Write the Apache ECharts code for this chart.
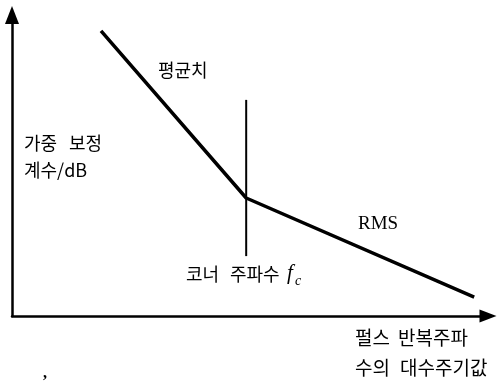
<!DOCTYPE html>
<html><head><meta charset="utf-8">
<script src="https://cdn.jsdelivr.net/npm/echarts@6/dist/echarts.min.js"></script>
<style>html,body{margin:0;padding:0;background:#fff}#c{width:498px;height:385px}</style>
</head><body><div id="c"></div>
<script>
// Weighting correction factor (dB) vs log of pulse repetition frequency (schematic)
const curveX = [18.7, 49.2, 97.1];
const curveY = [94.7, 39.2, 6.3];
const cornerX = 49.2;
const cornerLineY = [19.9, 71.8];
const yLabelWords1 = ['가중', '보정'];
const yLabel2 = '계수/dB';
const avgLabel = '평균치';
const rmsLabel = 'RMS';
const cornerWords = ['코너', '주파수'];
const fcMain = 'f', fcSub = 'c';
const xLabelWords1 = ['펄스', '반복주파'];
const xLabelWords2 = ['수의', '대수주기값'];

const KR = '"Noto Sans CJK KR", sans-serif';
const SERIF = '"Liberation Serif", "DejaVu Serif", serif';
const t = (text, left, top, font) => ({ type: 'text', left, top, style: { text, font, fill: '#000' } });

const chart = echarts.init(document.getElementById('c'));
chart.setOption({
  animation: false,
  backgroundColor: '#fff',
  grid: { left: 12, top: 15, right: 10, bottom: 69 },
  xAxis: {
    type: 'value', min: 0, max: 100,
    axisLine: { lineStyle: { color: '#000', width: 2.5 }, symbol: ['none', 'triangle'], symbolSize: [13, 17] },
    axisTick: { show: false }, axisLabel: { show: false }, splitLine: { show: false }
  },
  yAxis: {
    type: 'value', min: 0, max: 100,
    axisLine: { lineStyle: { color: '#000', width: 2.5 }, symbol: ['none', 'triangle'], symbolSize: [14, 18] },
    axisTick: { show: false }, axisLabel: { show: false }, splitLine: { show: false }
  },
  series: [
    { type: 'line', data: curveX.map((x, i) => [x, curveY[i]]), showSymbol: false,
      lineStyle: { color: '#000', width: 3.5 } },
    { type: 'line', data: cornerLineY.map(y => [cornerX, y]), showSymbol: false,
      lineStyle: { color: '#000', width: 2 } }
  ],
  graphic: [
    t(yLabelWords1[0], 24, 134, '18px ' + KR),
    t(yLabelWords1[1], 69, 134, '18px ' + KR),
    t(yLabel2, 24, 161, '18px ' + KR),
    t(avgLabel, 158, 61, '18px ' + KR),
    t(rmsLabel, 358, 215, '19px ' + SERIF),
    t(cornerWords[0], 186, 265, '18px ' + KR),
    t(cornerWords[1], 230, 265, '18px ' + KR),
    t(fcMain, 287, 263, 'italic 21px ' + SERIF),
    t(fcSub, 295, 274, 'italic 14px ' + SERIF),
    t(xLabelWords1[0], 355, 328, '19px ' + KR),
    t(xLabelWords1[1], 398, 328, '19px ' + KR),
    t(xLabelWords2[0], 355, 358, '19px ' + KR),
    t(xLabelWords2[1], 400, 358, '19px ' + KR),
    t(',', 43, 366, 'bold 16px ' + SERIF)
  ]
});
</script></body></html>
